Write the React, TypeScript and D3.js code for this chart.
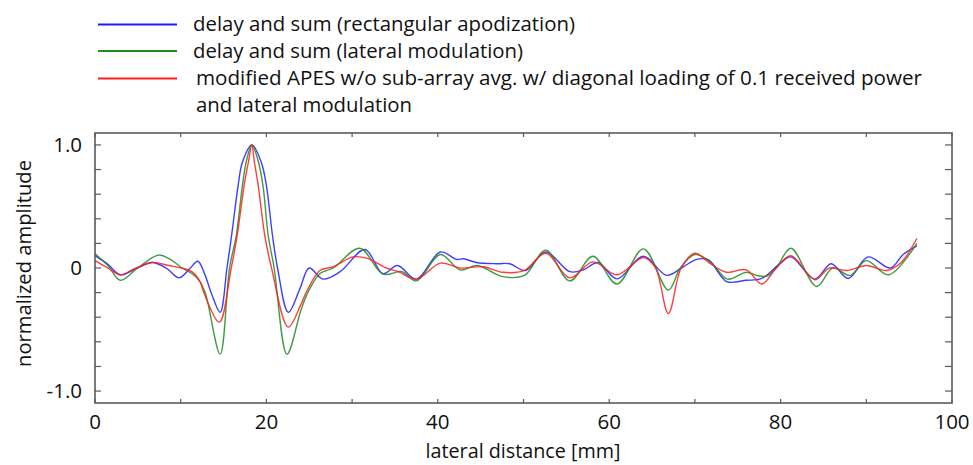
import React from "react";
import * as d3 from "d3";

// ---- data (lateral distance [mm], normalized amplitude) ----
const blueX = [0, 1.5, 2.95, 4.8, 6.65, 8.3, 9.8, 11.0, 12.0, 12.8, 13.65, 14.6, 15.4, 15.95, 16.7, 17.2, 18.3, 19.4, 20.0, 20.7, 21.3, 22.56, 23.9, 25.0, 26.6, 28.6, 31.5, 33.6, 35.3, 37.5, 40.3, 42.2, 43.0, 44.5, 46.9, 48.4, 50.2, 52.6, 55.4, 57.0, 58.7, 60.9, 64.0, 66.7, 68.65, 70.2, 71.6, 73.7, 76.0, 77.8, 79.9, 81.2, 84.0, 85.9, 87.9, 90.2, 92.8, 94.3, 95.9];
const blueY = [0.10, 0.03, -0.055, -0.005, 0.045, 0.0, -0.08, -0.01, 0.055, -0.05, -0.22, -0.36, 0.0, 0.27, 0.67, 0.86, 1.0, 0.86, 0.67, 0.27, 0.0, -0.36, -0.17, 0.0, -0.09, -0.03, 0.15, -0.046, 0.02, -0.09, 0.13, 0.07, 0.075, 0.045, 0.035, 0.035, -0.02, 0.13, -0.03, -0.015, 0.045, -0.088, 0.095, -0.06, 0.01, 0.07, 0.065, -0.11, -0.1, -0.085, 0.035, 0.09, -0.09, 0.035, -0.085, 0.09, 0.0, 0.11, 0.18];

const greenX = [0, 1.5, 2.95, 5.0, 7.4, 9.0, 10.15, 11.3, 12.25, 12.9, 14.6, 15.7, 16.5, 17.2, 17.7, 18.3, 19.0, 19.6, 20.2, 20.9, 22.4, 24.0, 24.7, 26.25, 27.8, 30.9, 33.6, 35.8, 37.5, 40.3, 42.6, 44.6, 47.6, 50.1, 52.6, 55.4, 58.1, 60.9, 64.0, 66.9, 68.3, 70.0, 71.8, 73.8, 76.0, 77.2, 78.4, 79.5, 81.2, 84.2, 86.1, 88.1, 90.0, 92.6, 95.9];
const greenY = [0.115, 0.02, -0.10, 0.0, 0.105, 0.06, 0.0, -0.045, -0.11, -0.21, -0.70, 0.0, 0.27, 0.67, 0.88, 1.0, 0.88, 0.67, 0.27, 0.0, -0.70, -0.35, -0.22, -0.045, 0.0, 0.16, -0.05, -0.03, -0.105, 0.11, -0.015, 0.02, -0.07, -0.06, 0.145, -0.105, 0.095, -0.13, 0.155, -0.18, 0.0, 0.11, 0.05, -0.09, -0.035, -0.06, -0.065, 0.0, 0.16, -0.15, 0.0, -0.06, 0.06, -0.055, 0.2];

const redX = [0, 1.5, 2.95, 4.5, 6.65, 8.6, 10.15, 11.3, 12.25, 12.7, 14.5, 15.9, 16.6, 17.4, 17.9, 18.3, 18.6, 19.05, 19.8, 20.6, 22.55, 24.0, 24.7, 26.25, 27.8, 30.1, 31.7, 34.0, 35.4, 37.5, 40.3, 42.6, 45.3, 47.6, 50.1, 52.6, 55.4, 58.1, 60.9, 64.0, 65.4, 66.9, 68.4, 70.0, 71.8, 73.7, 76.0, 77.8, 79.5, 81.2, 84.0, 85.7, 87.7, 90.0, 92.4, 94.0, 95.9];
const redY = [0.06, 0.0, -0.055, -0.01, 0.045, 0.02, 0.0, -0.03, -0.11, -0.2, -0.44, 0.0, 0.27, 0.67, 0.86, 1.0, 0.86, 0.67, 0.27, 0.0, -0.48, -0.3, -0.19, -0.02, 0.01, 0.09, 0.08, 0.0, -0.03, -0.09, 0.04, 0.0, 0.01, -0.035, -0.02, 0.12, -0.08, 0.05, -0.055, 0.085, 0.0, -0.37, 0.0, 0.12, 0.035, -0.035, -0.015, -0.13, 0.0, 0.1, -0.095, 0.0, -0.02, 0.02, -0.02, 0.04, 0.24];

const legendLabels = [
  ["delay and sum (rectangular apodization)"],
  ["delay and sum (lateral modulation)"],
  ["modified APES w/o sub-array avg. w/ diagonal loading of 0.1 received power", "and lateral modulation"],
];
const legendWidths = [[382], [330], [726, 216]];
const seriesColors = ["#1c1cff", "#1f8a1f", "#ff1c1c"];
const xTicks = [0, 10, 20, 30, 40, 50, 60, 70, 80, 90, 100];
const xTickLabels = [0, 20, 40, 60, 80, 100];
const yTicks = [-1.0, -0.8, -0.6, -0.4, -0.2, 0, 0.2, 0.4, 0.6, 0.8, 1.0];
const yTickLabels = [
  { v: 1.0, t: "1.0" },
  { v: 0, t: "0" },
  { v: -1.0, t: "-1.0" },
];

const W = 973;
const H = 465;
const L = 95, R = 952, T = 133, B = 403;
const FONT = "'Open Sans', sans-serif";
const FS = 20.5;

export default function App() {
  const x = d3.scaleLinear().domain([0, 100]).range([L, R]);
  const y = d3.scaleLinear().domain([-1.097, 1.097]).range([B, T]);
  const line = d3
    .line<[number, number]>()
    .x((d) => x(d[0]))
    .y((d) => y(d[1]))
    .curve(d3.curveCatmullRom.alpha(0.5));

  const series = [
    blueX.map((v, i) => [v, blueY[i]] as [number, number]),
    greenX.map((v, i) => [v, greenY[i]] as [number, number]),
    redX.map((v, i) => [v, redY[i]] as [number, number]),
  ];
  const legendLineY = [24.5, 51, 78.5];
  const legendTextX = [193, 193, 196];
  const frame = "#5a5a5a";

  return (
    <div style={{ position: "fixed", left: 0, top: 0 }}>
      <svg width={W} height={H} style={{ display: "block", background: "#fff" }} fontFamily={FONT}>
        {/* legend */}
        {legendLabels.map((lines, i) => (
          <g key={i}>
            <line x1={98} x2={177} y1={legendLineY[i]} y2={legendLineY[i]} stroke={seriesColors[i]} strokeWidth={2} />
            {lines.map((t, j) => (
              <text
                key={j}
                x={legendTextX[i]}
                y={legendLineY[i] + 6.8 + j * 27}
                fontSize={FS}
                fill="#111"
                textLength={legendWidths[i][j]}
                lengthAdjust="spacingAndGlyphs"
              >
                {t}
              </text>
            ))}
          </g>
        ))}

        {/* series */}
        <defs>
          <clipPath id="clip">
            <rect x={L} y={T} width={R - L} height={B - T} />
          </clipPath>
        </defs>
        <g clipPath="url(#clip)">
          {series.map((pts, i) => (
            <path key={i} d={line(pts) || ""} fill="none" stroke={seriesColors[i]} strokeWidth={1.4} strokeOpacity={0.85} />
          ))}
        </g>

        {/* frame */}
        <rect x={L} y={T} width={R - L} height={B - T} fill="none" stroke={frame} strokeWidth={1.6} />
        {xTicks.map((t) => (
          <g key={"xt" + t}>
            <line x1={x(t)} x2={x(t)} y1={B} y2={B - 4} stroke={frame} strokeWidth={1.2} />
            <line x1={x(t)} x2={x(t)} y1={T} y2={T + 4} stroke={frame} strokeWidth={1.2} />
          </g>
        ))}
        {yTicks.map((t) => (
          <g key={"yt" + t}>
            <line x1={L} x2={L + 6} y1={y(t)} y2={y(t)} stroke={frame} strokeWidth={1.2} />
            <line x1={R} x2={R - 7} y1={y(t)} y2={y(t)} stroke={frame} strokeWidth={1.2} />
          </g>
        ))}
        {xTickLabels.map((t) => (
          <text key={"xl" + t} x={x(t)} y={429} fontSize={FS} textAnchor="middle" fill="#111">
            {t}
          </text>
        ))}
        {yTickLabels.map((d) => (
          <text key={"yl" + d.t} x={82} y={y(d.v) + 7} fontSize={FS} textAnchor="end" fill="#111">
            {d.t}
          </text>
        ))}
        <text x={523} y={458} fontSize={19.5} textAnchor="middle" fill="#111" textLength={195} lengthAdjust="spacingAndGlyphs">
          lateral distance [mm]
        </text>
        <text
          transform={`translate(31,${263.5}) rotate(-90)`}
          fontSize={FS}
          textAnchor="middle"
          fill="#111"
          textLength={207}
          lengthAdjust="spacingAndGlyphs"
        >
          normalized amplitude
        </text>
      </svg>
    </div>
  );
}
